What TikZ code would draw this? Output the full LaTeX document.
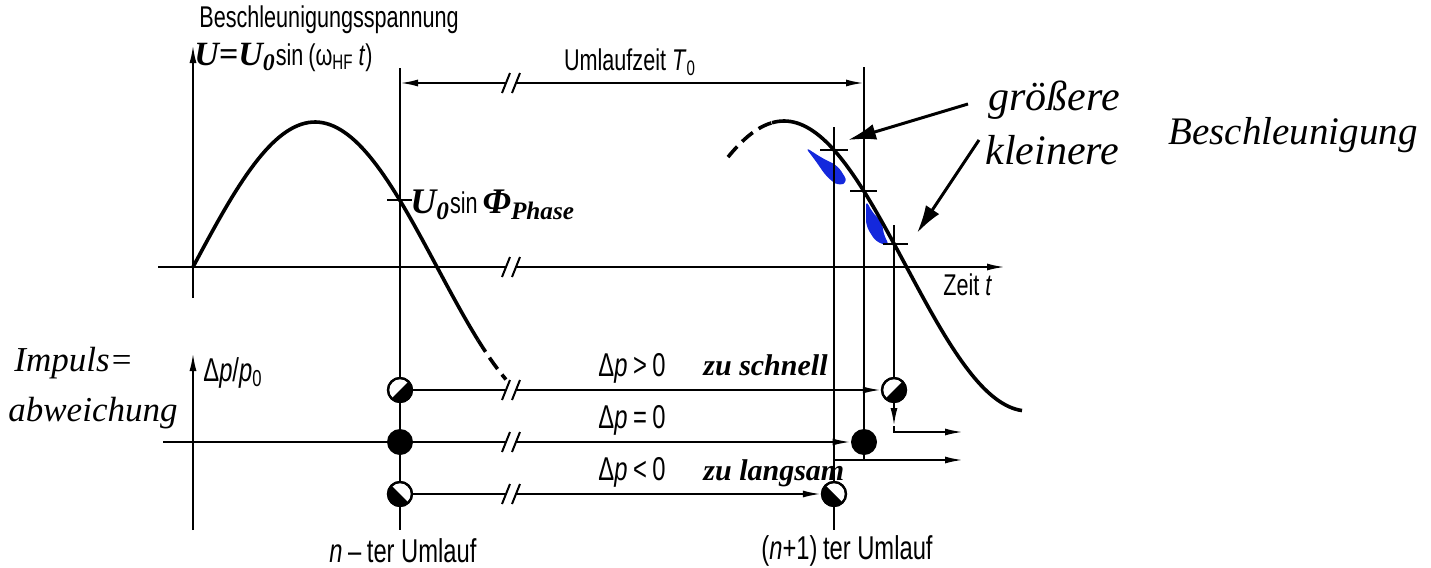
\documentclass[tikz,border=0pt]{standalone}
\usepackage{fontspec}
\setmainfont{Liberation Sans}[FakeStretch=0.72]
\newfontfamily\hand{Liberation Serif}
\usetikzlibrary{arrows.meta,calc}
\tikzset{
 ln/.style={line width=1pt},
 curve/.style={line width=1.8pt},
 arr/.style={-{Latex[length=9pt,width=3.5pt]}},
 dimarr/.style={{Latex[length=9pt,width=3.5pt]}-{Latex[length=9pt,width=3.5pt]}},
 circ/.style={circle,draw,line width=1.1pt,minimum size=12pt,inner sep=0pt,fill=white},
 dot/.style={circle,fill=black,minimum size=13pt,inner sep=0pt},
 halffill/.style={fill=black},
 lbl/.style={font=\fontsize{15}{17}\selectfont,inner sep=0pt},
 lblb/.style={font=\fontsize{16.5}{18}\selectfont,inner sep=0pt},
 hw/.style={font=\hand\itshape\fontsize{21}{24}\selectfont,inner sep=0pt},
 hwb/.style={font=\hand\itshape\fontsize{19.5}{24}\selectfont,inner sep=0pt},
 hws/.style={font=\hand\itshape\bfseries\fontsize{15}{17}\selectfont,inner sep=0pt},
 hwm/.style={font=\hand\itshape\fontsize{17.5}{21}\selectfont,inner sep=0pt},
 hwarrow/.style={line width=1.5pt,-{Latex[length=14pt,width=8pt]}},
 blueink/.style={fill={rgb,255:red,20;green,40;blue,220}},
}
\newcommand\brkmark[2]{\fill[white] ({#1-5},{#2-4}) rectangle ({#1+5},{#2+4}); \draw[ln] ({#1-10},{#2+10}) -- ({#1-2},{#2-10}); \draw[ln] ({#1},{#2+10}) -- ({#1+8},{#2-10});}
\begin{document}
\begin{tikzpicture}[x=0.5pt,y=-0.5pt]
\path[use as bounding box] (0,0) rectangle (1431,568);

% coordinates
\coordinate (ua0) at (193,298); \coordinate (ua1) at (193,45);
\coordinate (ta0) at (158,267); \coordinate (ta1) at (1005,267);
\coordinate (la0) at (193,530); \coordinate (la1) at (193,353);
\coordinate (v1top) at (400,68); \coordinate (v1bot) at (400,530);
\coordinate (v2top) at (834,127); \coordinate (v2bot) at (834,530);
\coordinate (v3top) at (864,67);
\coordinate (v4top) at (894,225);
\coordinate (z0) at (163,442);
\coordinate (d0) at (400,83); \coordinate (d1) at (864,83);

% blue ink
\fill[blueink,rounded corners=3pt] (805,147) -- (822,158) -- (838,166) -- (848,182) -- (838,186) -- (826,176) -- (815,160) -- cycle;
\fill[blueink,rounded corners=3pt] (866,200) -- (872,212) -- (882,222) -- (884,236) -- (890,246) -- (876,242) -- (866,226) -- cycle;

% axes
\draw[ln,arr] (ua0) -- (ua1);
\draw[ln,arr] (ta0) -- (ta1);
\draw[ln,arr] (la0) -- (la1);

% circles
\node[circ] (pn) at (400,390) {};
\node[dot] (zn) at (400,442) {};
\node[circ] (mn) at (400,494) {};
\node[circ] (pr) at (894,390) {};
\node[dot] (zr) at (864,442) {};
\node[circ] (mr) at (834,494) {};
% half fillings (dp>0: lower right half; dp<0: lower left half)
\foreach \c in {pn,pr}{
  \fill[halffill] ([shift={(45:6pt)}]\c.center) arc[start angle=45,end angle=-135,radius=6pt] -- cycle;
  \draw[line width=1.1pt] (\c.center) circle[radius=6pt];
}
\foreach \c in {mn,mr}{
  \fill[halffill] ([shift={(135:6pt)}]\c.center) arc[start angle=135,end angle=315,radius=6pt] -- cycle;
  \draw[line width=1.1pt] (\c.center) circle[radius=6pt];
}

% verticals
\draw[ln] (v1top) -- (pn); \draw[ln] (pn) -- (zn); \draw[ln] (zn) -- (mn); \draw[ln] (mn) -- (v1bot);
\draw[ln] (v2top) -- (mr); \draw[ln] (mr) -- (v2bot);
\draw[ln] (v3top) -- (zr);
\draw[ln] (v4top) -- (pr);

% rows
\draw[ln] (z0) -- (zn);
\draw[ln,arr] (pn) -- (pr);
\draw[ln,arr] (zn) -- (zr);
\draw[ln,arr] (mn) -- (mr);

% outputs at right
\coordinate (pd) at (894,426); \coordinate (pc) at (894,432); \coordinate (pe) at (963,432);
\draw[ln,arr] (pr) -- (pd);
\draw[ln,arr] (pd) -- (pc) -- (pe);
\coordinate (zs) at (864,460); \coordinate (zl) at (834,460); \coordinate (ze) at (963,460);
\draw[ln] (zr) -- (zs);
\draw[ln,arr] (zl) -- (ze);

% Umlaufzeit
\draw[ln,dimarr] (d0) -- (d1);

% break marks
\brkmark{512}{83}
\brkmark{512}{267}
\brkmark{512}{390}
\brkmark{512}{442}
\brkmark{512}{494}

% curves
\draw[curve] plot[domain=193:478,samples=80] (\x,{267-145*sin((\x-193)/488*360)});
\draw[curve,dash pattern=on 7pt off 3.5pt] plot[domain=478:506,samples=10] (\x,{267-145*sin((\x-193)/488*360)});
\draw[curve,dash pattern=on 7pt off 3.5pt] plot[domain=728:772,samples=12] (\x,{266-145*sin((906-\x)/488*360)});
\draw[curve] plot[domain=772:1022,samples=80] (\x,{266-145*sin((906-\x)/488*360)});

% ticks
\draw[ln] (387,200) -- (412,200);
\draw[ln] (820,150) -- (848,150);
\draw[ln] (850,191) -- (877,191);
\draw[ln] (883,244) -- (908,244);

% texts
\node[lbl,anchor=west] (t1) at (199,20) {Beschleunigungsspannung};
\node[lbl,anchor=west] (t2) at (194,57) {{\hand\itshape\bfseries\fontsize{17}{17}\selectfont U=U\textsubscript{0}}sin\,(ω\textsubscript{HF}\,\textit{t})};
\node[lbl,anchor=west] (t3) at (410,205) {{\hand\itshape\bfseries\fontsize{18}{18}\selectfont U\textsubscript{0}}sin\,{\hand\itshape\bfseries\fontsize{18}{18}\selectfont Φ\textsubscript{Phase}}};
\node[lbl] (t4) at (630,62) {Umlaufzeit \textit{T}\textsubscript{0}};
\node[lbl,anchor=west] (t5) at (943,285) {Zeit \textit{t}};
\node[lblb,anchor=west] (t6) at (203,373) {Δ\textit{p}/\textit{p}\textsubscript{0}};
\node[lblb] (t7) at (632,368) {Δ\textit{p}\,>\,0};
\node[lblb] (t8) at (632,420) {Δ\textit{p}\,=\,0};
\node[lblb] (t9) at (632,472) {Δ\textit{p}\,<\,0};
\node[hws,anchor=west] (t10) at (703,365) {zu schnell};
\node[hws,anchor=west] (t11) at (703,473) {zu langsam};
\node[lblb] (t12) at (403,551) {\textit{n}\,–\,ter Umlauf};
\node[lblb] (t13) at (847,551) {(\textit{n}+1)\,ter Umlauf};
\node[hw,anchor=west] (gr) at (988,100) {größere};
\node[hw,anchor=west] (kl) at (985,150) {kleinere};
\node[hwb,anchor=west] (be) at (1168,135) {Beschleunigung};
\node[hwm,anchor=west] (im) at (14,363) {Impuls=};
\node[hwm,anchor=west] (ab) at (8,413) {abweichung};

% handwritten arrows
\coordinate (ga) at (848,140);
\coordinate (ka) at (917,233);
\draw[hwarrow] ([xshift=-10pt,yshift=-2pt]gr.west) -- (ga);
\draw[hwarrow] ([xshift=-3pt,yshift=5pt]kl.west) -- (ka);
\end{tikzpicture}
\end{document}
